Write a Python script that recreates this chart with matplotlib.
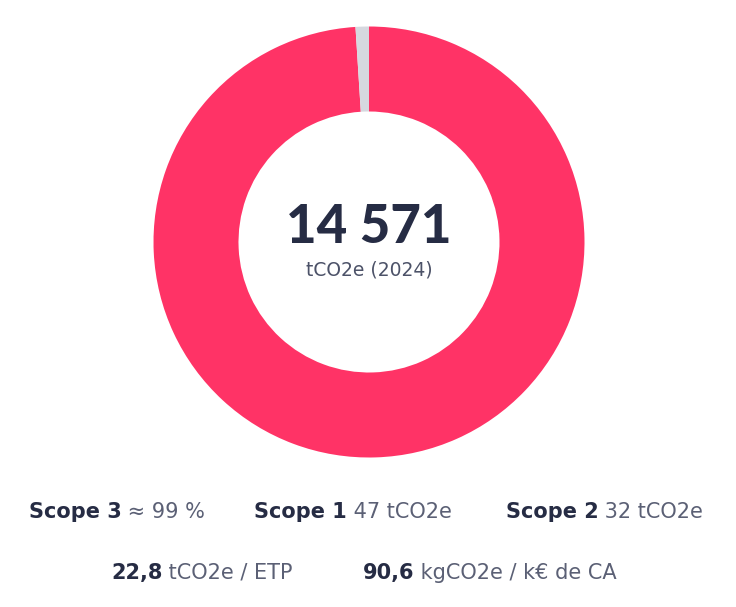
import matplotlib
matplotlib.use("Agg")
import matplotlib.pyplot as plt

# data
total_emissions = "14 571"
total_unit = "tCO2e (2024)"
slice_names = ["Scope 3", "Scope 1 + 2"]
slice_shares = [99, 1]          # % of the ring
slice_colors = ["#FF3366", "#D6D8DF"]

row1 = [("Scope 3", " \u2248 99 %"), ("Scope 1", " 47 tCO2e"), ("Scope 2", " 32 tCO2e")]
row2 = [("22,8", " tCO2e / ETP"), ("90,6", " kgCO2e / k\u20ac de CA")]

DARK = "#262C44"
GREY = "#5B6075"
W, H = 736, 607

plt.rcParams['font.family'] = ['DejaVu Sans']

fig = plt.figure(figsize=(W / 100, H / 100), dpi=100)
ax = fig.add_axes([0, 0, 1, 1])
ax.set_xlim(0, W)
ax.set_ylim(0, H)
ax.set_aspect('equal')
ax.axis('off')

cx, cy, r_out, r_in = 369, H - 242, 215.5, 130.5
ax.pie(slice_shares, colors=slice_colors, startangle=90, counterclock=False,
       center=(cx, cy), radius=r_out, frame=True,
       wedgeprops=dict(width=r_out - r_in, linewidth=0))
ax.set_xlim(0, W)
ax.set_ylim(0, H)
ax.axis('off')

ax.text(cx, H - 243, total_emissions, ha='center', va='baseline',
        fontsize=38, fontweight='black', family=['Lato', 'DejaVu Sans'], color=DARK)
ax.text(cx, H - 275, total_unit, ha='center', va='baseline',
        fontsize=13.5, color="#4C5268")

fig.canvas.draw()
renderer = fig.canvas.get_renderer()


def draw_run(center_x, base_y, bold, rest, size=15):
    t1 = ax.text(0, H - base_y, bold, fontsize=size, fontweight='bold', color=DARK, va='baseline')
    t2 = ax.text(0, H - base_y, rest, fontsize=size, color=GREY, va='baseline')
    w1 = t1.get_window_extent(renderer).width
    w2 = t2.get_window_extent(renderer).width
    x0 = center_x - (w1 + w2) / 2
    t1.set_x(x0)
    t2.set_x(x0 + w1)


for (b, r), c in zip(row1, [117, 353, 604.5]):
    draw_run(c, 518, b, r)
for (b, r), c in zip(row2, [202, 490]):
    draw_run(c, 579, b, r)

fig.savefig("out.png", dpi=100, facecolor="white")
